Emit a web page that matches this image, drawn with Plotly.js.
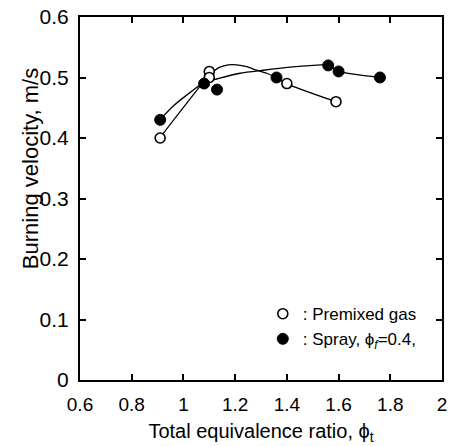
<!DOCTYPE html>
<html><head><meta charset="utf-8">
<script src="https://cdn.plot.ly/plotly-3.0.1.min.js"></script>
<style>body{margin:0;background:#fff}#c{width:452px;height:446px}</style>
</head><body><div id="c"></div>
<script>
// Measured points
const premixedX = [0.91, 1.10, 1.10, 1.40, 1.59];
const premixedY = [0.40, 0.51, 0.50, 0.49, 0.46];
const sprayX = [0.91, 1.08, 1.13, 1.36, 1.56, 1.60, 1.76];
const sprayY = [0.43, 0.49, 0.48, 0.50, 0.52, 0.51, 0.50];
// Hand-drawn fit curves
const premixedCurveX = [0.91, 1.09, 1.116, 1.141, 1.173, 1.206, 1.245, 1.283, 1.322, 1.361, 1.397, 1.59];
const premixedCurveY = [0.401, 0.499, 0.510, 0.517, 0.521, 0.521, 0.518, 0.512, 0.507, 0.499, 0.490, 0.46];
const sprayCurveX = [0.91, 0.961, 1.025, 1.077, 1.141, 1.219, 1.309, 1.412, 1.502, 1.56, 1.60, 1.76];
const sprayCurveY = [0.431, 0.453, 0.475, 0.491, 0.499, 0.507, 0.512, 0.517, 0.520, 0.521, 0.51, 0.50];
const xTicks = [0.6, 0.8, 1, 1.2, 1.4, 1.6, 1.8, 2];
const yTicks = [0, 0.1, 0.2, 0.3, 0.4, 0.5, 0.6];
const labels = [': Premixed gas', ': Spray, \u03D5<sub><i>f</i></sub>=0.4,'];
const xTitle = 'Total equivalence ratio, \u03D5<sub>t</sub>';
const yTitle = 'Burning velocity, m/s';

const font = 'Liberation Sans, Arial, Helvetica, sans-serif';
const traces = [
  {x: premixedCurveX, y: premixedCurveY, mode: 'lines', line: {color: '#000', width: 1.3, shape: 'spline', smoothing: 0.6}, showlegend: false, hoverinfo: 'skip'},
  {x: sprayCurveX, y: sprayCurveY, mode: 'lines', line: {color: '#000', width: 1.3, shape: 'spline', smoothing: 0.6}, showlegend: false, hoverinfo: 'skip'},
  {x: premixedX, y: premixedY, mode: 'markers', name: labels[0], marker: {symbol: 'circle', size: 10, color: '#fff', line: {color: '#000', width: 1.6}}},
  {x: sprayX, y: sprayY, mode: 'markers', name: labels[1], marker: {symbol: 'circle', size: 11, color: '#000', line: {color: '#000', width: 1}}}
];
const axisCommon = {
  showline: true, linecolor: '#000', linewidth: 2, mirror: 'ticks',
  ticks: 'inside', ticklen: 6, tickwidth: 2, tickcolor: '#000',
  showgrid: false, zeroline: false
};
const layout = {
  width: 452, height: 446,
  margin: {l: 80, r: 10, t: 17, b: 66},
  paper_bgcolor: '#fff', plot_bgcolor: '#fff',
  font: {family: font, color: '#000'},
  xaxis: Object.assign({}, axisCommon, {
    range: [0.6, 2], tickvals: xTicks, ticktext: xTicks.map(String),
    tickfont: {family: font, size: 19, color: '#000'}, ticklabelstandoff: 6,
    title: {text: xTitle, font: {family: font, size: 20, color: '#000'}, standoff: 10}
  }),
  yaxis: Object.assign({}, axisCommon, {
    range: [0, 0.6], tickvals: yTicks, ticktext: yTicks.map(String),
    tickfont: {family: font, size: 21, color: '#000'}, ticklabelstandoff: 5
  }),
  annotations: [{
    text: yTitle, xref: 'paper', yref: 'paper', x: -0.138, y: 0.581,
    xanchor: 'center', yanchor: 'middle', textangle: -90, showarrow: false,
    font: {family: font, size: 22, color: '#000'}
  }],
  legend: {x: 0.505, y: 0.231, xanchor: 'left', yanchor: 'top', bgcolor: 'rgba(0,0,0,0)',
    font: {family: font, size: 17, color: '#000'}, itemwidth: 30, tracegroupgap: 0}
};
Plotly.newPlot('c', traces, layout, {displayModeBar: false, staticPlot: true});
</script></body></html>
